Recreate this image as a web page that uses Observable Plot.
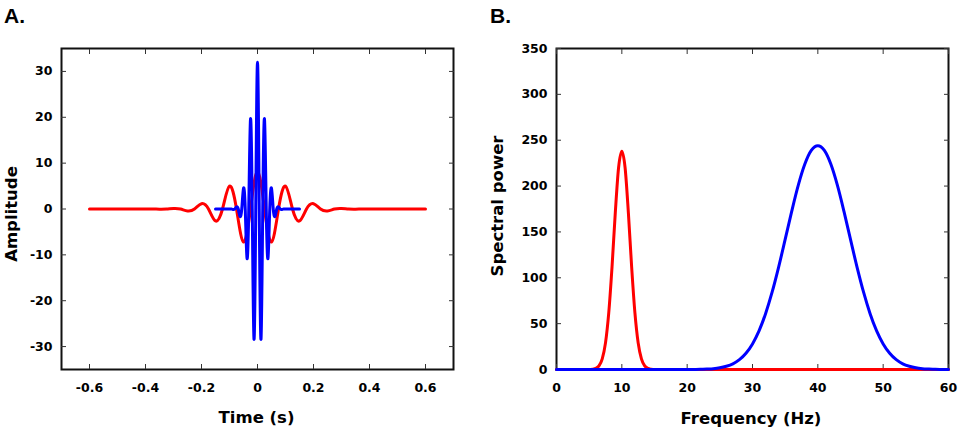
<!DOCTYPE html>
<html>
<head>
<meta charset="utf-8">
<script src="https://cdn.jsdelivr.net/npm/d3@7"></script>
<script src="https://cdn.jsdelivr.net/npm/@observablehq/plot@0.6"></script>
<style>
  html, body { margin: 0; padding: 0; background: #fff; }
  #fig { position: relative; width: 965px; height: 429px; overflow: hidden; background: #fff; }
  #fig svg { position: absolute; top: 0; }
</style>
</head>
<body>
<div id="fig"></div>
<script>
// ---- Panel A: wavelets in the time domain (sampled at quarter periods) ----
// 10 Hz wavelet (red)
const redTime = [-0.6, -0.45, -0.4, -0.375, -0.35, -0.325, -0.3, -0.275, -0.25, -0.225, -0.2, -0.175,
  -0.15, -0.125, -0.1, -0.075, -0.05, -0.025, 0, 0.025, 0.05, 0.075, 0.1, 0.125, 0.15, 0.175,
  0.2, 0.225, 0.25, 0.275, 0.3, 0.325, 0.35, 0.375, 0.4, 0.45, 0.6];
const redAmp = [0, 0, 0, 0, -0.03, 0, 0.12, 0, -0.42, 0, 1.15, 0,
  -2.6, 0, 5.0, 0, -7.2, 0, 8.2, 0, -7.2, 0, 5.0, 0, -2.6, 0,
  1.15, 0, -0.42, 0, 0.12, 0, -0.03, 0, 0, 0, 0];

// 40 Hz wavelet (blue)
const blueTime = [-0.15, -0.12, -0.1, -0.09375, -0.0875, -0.08125, -0.075, -0.06875, -0.0625, -0.05625,
  -0.05, -0.04375, -0.0375, -0.03125, -0.025, -0.01875, -0.0125, -0.00625, 0,
  0.00625, 0.0125, 0.01875, 0.025, 0.03125, 0.0375, 0.04375, 0.05, 0.05625, 0.0625,
  0.06875, 0.075, 0.08125, 0.0875, 0.09375, 0.1, 0.12, 0.15];
const blueAmp = [0, 0, 0, 0, -0.1, 0, 0.45, 0, -1.6, 0,
  4.5, 0, -10.7, 0, 19.6, 0, -28.4, 0, 32,
  0, -28.4, 0, 19.6, 0, -10.7, 0, 4.5, 0, -1.6,
  0, 0.45, 0, -0.1, 0, 0, 0, 0];

// ---- Panel B: spectral power ----
const redFreq = [0, 4, 5, 5.5, 6, 6.5, 7, 7.5, 8, 8.5, 9, 9.5, 10, 10.5, 11, 11.5, 12, 12.5,
  13, 13.5, 14, 14.5, 15, 16, 20, 60];
const redPower = [0, 0, 0, 0.3, 1.1, 3.9, 11.6, 29, 62, 112, 171, 220, 238, 220, 171, 112, 62, 29,
  11.6, 3.9, 1.1, 0.3, 0, 0, 0, 0];

const blueFreq = [0, 20, 21, 22, 23, 24, 25, 26, 27, 28, 29, 30, 31, 32, 33, 34, 35, 36, 37, 38, 39,
  40, 41, 42, 43, 44, 45, 46, 47, 48, 49, 50, 51, 52, 53, 54, 55, 56, 57, 58, 59, 60];
const bluePower = [0, 0, 0.1, 0.2, 0.5, 0.9, 1.8, 3.5, 6.2, 10.7, 17.7, 27.9, 42.1, 60.9, 84.3, 111.7,
  141.8, 172.4, 200.7, 223.7, 238.8,
  244, 238.8, 223.7, 200.7, 172.4, 141.8, 111.7, 84.3, 60.9, 42.1, 27.9, 17.7, 10.7, 6.2, 3.5, 1.8,
  0.9, 0.5, 0.2, 0.1, 0];

// ---- tick values ----
const timeTicks = [-0.6, -0.4, -0.2, 0, 0.2, 0.4, 0.6];
const ampTicks = [-30, -20, -10, 0, 10, 20, 30];
const freqTicks = [0, 10, 20, 30, 40, 50, 60];
const powerTicks = [0, 50, 100, 150, 200, 250, 300, 350];

const RED = "#ff0000";
const BLUE = "#0000ff";
const fmt = d => String(d);            // keeps an ASCII hyphen on negatives
const blank = () => "";

const redWave = redTime.map((t, i) => ({t, v: redAmp[i]}));
const blueWave = blueTime.map((t, i) => ({t, v: blueAmp[i]}));
const redSpec = redFreq.map((f, i) => ({f, p: redPower[i]}));
const blueSpec = blueFreq.map((f, i) => ({f, p: bluePower[i]}));

const baseStyle = {
  fontFamily: "'DejaVu Sans', sans-serif",
  fontSize: "12.5px",
  fontWeight: "bold",
  color: "#000",
  background: "transparent",
  overflow: "visible"
};

// Boxed axes with inward ticks on all four sides
function boxAxes(xTicks, yTicks) {
  const tick = {stroke: "#333", tickSize: -5, label: null};
  return [
    Plot.frame({stroke: "#111", strokeWidth: 2}),
    Plot.axisX(xTicks, {...tick, anchor: "bottom", tickPadding: 19, tickFormat: fmt, fill: "#000"}),
    Plot.axisX(xTicks, {...tick, anchor: "top", tickFormat: blank}),
    Plot.axisY(yTicks, {...tick, anchor: "left", tickPadding: 14, tickFormat: fmt, fill: "#000"}),
    Plot.axisY(yTicks, {...tick, anchor: "right", tickFormat: blank})
  ];
}

const plotA = Plot.plot({
  width: 480, height: 429,
  marginLeft: 61, marginRight: 27, marginTop: 48, marginBottom: 60,
  x: {domain: [-0.7, 0.7]},
  y: {domain: [-35, 35]},
  style: baseStyle,
  marks: [
    ...boxAxes(timeTicks, ampTicks),
    Plot.line(redWave, {x: "t", y: "v", stroke: RED, strokeWidth: 3, curve: "natural"}),
    Plot.line(blueWave, {x: "t", y: "v", stroke: BLUE, strokeWidth: 3, curve: "natural"})
  ]
});

const plotB = Plot.plot({
  width: 485, height: 429,
  marginLeft: 76, marginRight: 17, marginTop: 48, marginBottom: 60,
  x: {domain: [0, 60]},
  y: {domain: [0, 350]},
  style: baseStyle,
  marks: [
    ...boxAxes(freqTicks, powerTicks),
    Plot.line(redSpec, {x: "f", y: "p", stroke: RED, strokeWidth: 3, curve: "monotone-x"}),
    Plot.line(blueSpec, {x: "f", y: "p", stroke: BLUE, strokeWidth: 3, curve: "monotone-x"})
  ]
});

const fig = document.getElementById("fig");
plotA.style.left = "0px";
plotB.style.left = "480px";
fig.appendChild(plotA);
fig.appendChild(plotB);

// Panel letters and axis titles
const overlay = d3.select(fig).append("svg")
  .attr("width", 965).attr("height", 429)
  .style("left", "0px")
  .style("pointer-events", "none");

const titles = [
  {text: "A.", x: 4, y: 22.5, size: 21, family: "'Liberation Sans', Arial, sans-serif", anchor: "start", rotate: 0},
  {text: "B.", x: 490, y: 22.5, size: 21, family: "'Liberation Sans', Arial, sans-serif", anchor: "start", rotate: 0},
  {text: "Time (s)", x: 256.5, y: 422.7, size: 16.5, family: "'DejaVu Sans', sans-serif", anchor: "middle", rotate: 0},
  {text: "Frequency (Hz)", x: 751, y: 423.5, size: 16.5, family: "'DejaVu Sans', sans-serif", anchor: "middle", rotate: 0},
  {text: "Amplitude", x: 17, y: 214, size: 16.5, family: "'DejaVu Sans', sans-serif", anchor: "middle", rotate: -90},
  {text: "Spectral power", x: 502.5, y: 206, size: 16.5, family: "'DejaVu Sans', sans-serif", anchor: "middle", rotate: -90}
];

overlay.selectAll("text").data(titles).join("text")
  .attr("transform", d => `translate(${d.x},${d.y}) rotate(${d.rotate})`)
  .attr("text-anchor", d => d.anchor)
  .attr("font-family", d => d.family)
  .attr("font-size", d => d.size)
  .attr("font-weight", "bold")
  .attr("fill", "#000")
  .text(d => d.text);
</script>
</body>
</html>
